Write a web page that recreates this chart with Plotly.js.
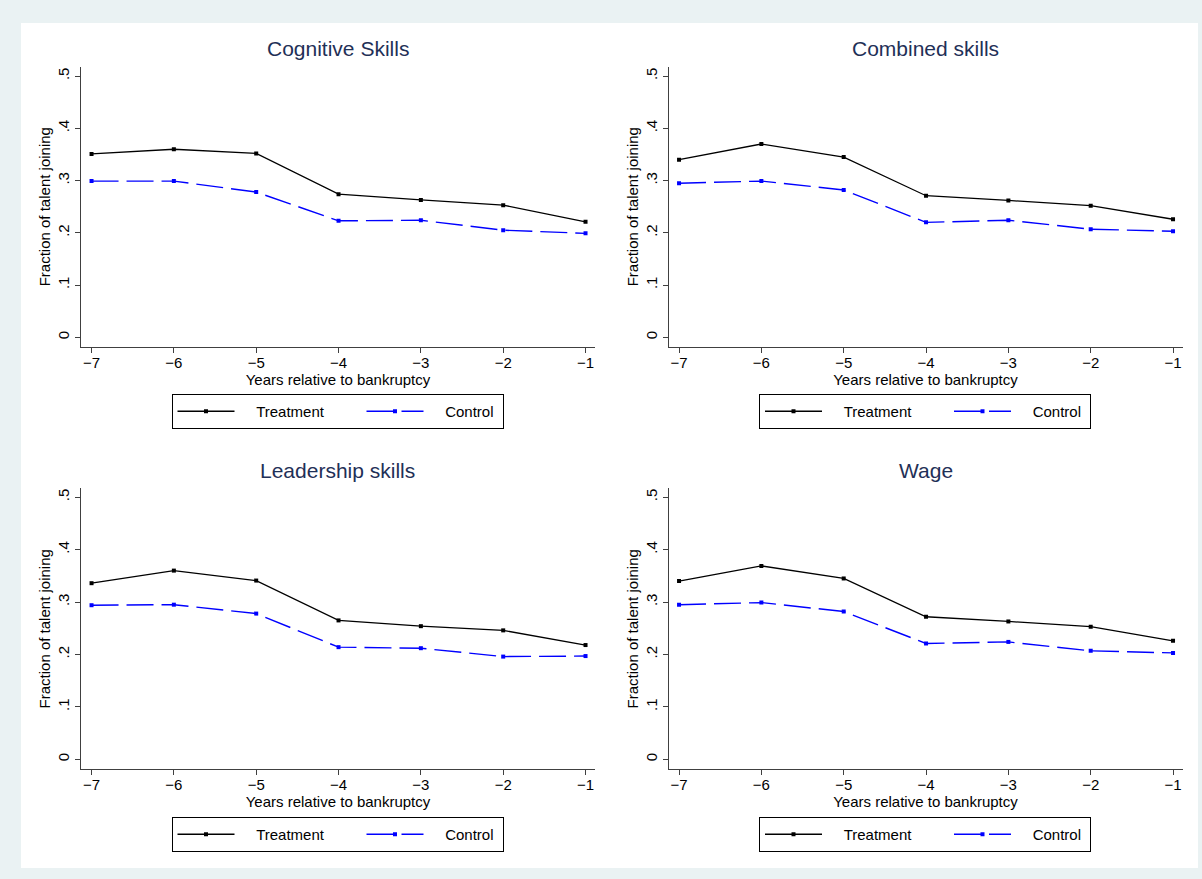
<!DOCTYPE html>
<html>
<head>
<meta charset="utf-8">
<script src="https://cdn.plot.ly/plotly-3.0.1.min.js"></script>
<style>
  html, body { margin: 0; padding: 0; background: #eaf2f3; }
  #chart { width: 1202px; height: 879px; }
</style>
</head>
<body>
<div id="chart"></div>
<script>
// ---- data ----
const years = [-7, -6, -5, -4, -3, -2, -1];
const panelTitles = ["Cognitive Skills", "Combined skills", "Leadership skills", "Wage"];
const seriesNames = ["Treatment", "Control"];

const cognitiveTreatment = [0.351, 0.360, 0.352, 0.274, 0.263, 0.253, 0.221];
const cognitiveControl   = [0.299, 0.299, 0.278, 0.223, 0.224, 0.205, 0.199];
const combinedTreatment  = [0.340, 0.370, 0.345, 0.271, 0.262, 0.252, 0.226];
const combinedControl    = [0.295, 0.299, 0.282, 0.220, 0.224, 0.207, 0.203];
const leadershipTreatment = [0.336, 0.360, 0.341, 0.265, 0.254, 0.246, 0.218];
const leadershipControl   = [0.294, 0.295, 0.278, 0.214, 0.212, 0.196, 0.197];
const wageTreatment = [0.340, 0.369, 0.345, 0.272, 0.263, 0.253, 0.226];
const wageControl   = [0.295, 0.299, 0.282, 0.221, 0.224, 0.207, 0.203];

const yTickVals = [0, 0.1, 0.2, 0.3, 0.4, 0.5];
const yTickText = ["0", ".1", ".2", ".3", ".4", ".5"];
const xTickVals = years;
const xAxisTitle = "Years relative to bankruptcy";
const yAxisTitle = "Fraction of talent joining";

// ---- layout helpers ----
const W = 1202, H = 879;
const FONT = "Arial, 'Liberation Sans', Helvetica, sans-serif";
const px = v => v / W;
const py = v => 1 - v / H;
const PAD = "\u00a0\u00a0\u00a0\u00a0";   // visual gap between legend key and label

const panelData = [
  [cognitiveTreatment, cognitiveControl],
  [combinedTreatment, combinedControl],
  [leadershipTreatment, leadershipControl],
  [wageTreatment, wageControl]
];

const xDomains = [[px(81), px(595)], [px(668.5), px(1182.5)]];
const yDomains = [[py(346.7), py(66.7)], [py(769.3), py(488.3)]];
const yRanges = [[-0.018, 0.518], [-0.019, 0.517]];
const xRange = [-7.128, -0.885];

const traces = [];
const layout = {
  width: W, height: H,
  margin: {l: 0, r: 0, t: 0, b: 0},
  paper_bgcolor: "#eaf2f3",
  plot_bgcolor: "rgba(0,0,0,0)",
  font: {family: FONT, color: "#000", size: 15},
  showlegend: true,
  shapes: [{
    type: "rect", xref: "paper", yref: "paper", layer: "below",
    x0: px(21), x1: px(1198), y0: py(868), y1: py(23),
    fillcolor: "#ffffff", line: {width: 0}
  }],
  annotations: []
};

for (let i = 0; i < 4; i++) {
  const col = i % 2, row = Math.floor(i / 2);
  const n = i + 1;
  const xa = n === 1 ? "x" : "x" + n;
  const ya = n === 1 ? "y" : "y" + n;
  const legendId = n === 1 ? "legend" : "legend" + n;

  traces.push({
    x: years, y: panelData[i][0], xaxis: xa, yaxis: ya,
    type: "scatter", mode: "lines+markers", name: PAD + seriesNames[0],
    legend: legendId, legendwidth: 117,
    line: {color: "#000000", width: 1.3},
    marker: {symbol: "square", size: 4, color: "#000000"}
  });
  traces.push({
    x: years, y: panelData[i][1], xaxis: xa, yaxis: ya,
    type: "scatter", mode: "lines+markers", name: PAD + seriesNames[1],
    legend: legendId, legendwidth: 69,
    line: {color: "#0000ff", width: 1.4, dash: "27px,8px"},
    marker: {symbol: "square", size: 4, color: "#0000ff"}
  });

  const xKey = n === 1 ? "xaxis" : "xaxis" + n;
  const yKey = n === 1 ? "yaxis" : "yaxis" + n;
  layout[xKey] = {
    domain: xDomains[col], anchor: ya, range: xRange,
    tickmode: "array", tickvals: xTickVals,
    ticks: "outside", ticklen: 5, tickwidth: 1, tickcolor: "#404040",
    ticklabelstandoff: -3,
    showline: true, linecolor: "#404040", linewidth: 1,
    showgrid: false, zeroline: false,
    tickfont: {size: 15, color: "#000"},
    title: {text: xAxisTitle, font: {size: 15, color: "#000"}, standoff: 0}
  };
  layout[yKey] = {
    domain: yDomains[row], anchor: xa, range: yRanges[row],
    tickmode: "array", tickvals: yTickVals, ticktext: yTickText,
    tickangle: -90,
    ticks: "outside", ticklen: 5, tickwidth: 1, tickcolor: "#404040",
    showline: true, linecolor: "#404040", linewidth: 1,
    showgrid: false, zeroline: false,
    tickfont: {size: 15, color: "#000"},
    title: {text: yAxisTitle, font: {size: 15, color: "#000"}, standoff: 0}
  };

  const cx = (xDomains[col][0] + xDomains[col][1]) / 2;
  layout.annotations.push({
    text: panelTitles[i], xref: "paper", yref: "paper",
    x: cx, y: py(48 + row * 422), xanchor: "center", yanchor: "middle",
    showarrow: false, font: {size: 21, color: "#1f3057"}
  });

  layout[legendId] = {
    orientation: "h",
    x: px(171.5 + col * 587.5), xanchor: "left",
    y: py(394 + row * 423), yanchor: "top",
    bordercolor: "#000", borderwidth: 1, bgcolor: "#fff",
    font: {size: 15, color: "#000"},
    itemwidth: 57,
    traceorder: "normal"
  };
}

Plotly.newPlot("chart", traces, layout, {displayModeBar: false, staticPlot: true});
</script>
</body>
</html>
